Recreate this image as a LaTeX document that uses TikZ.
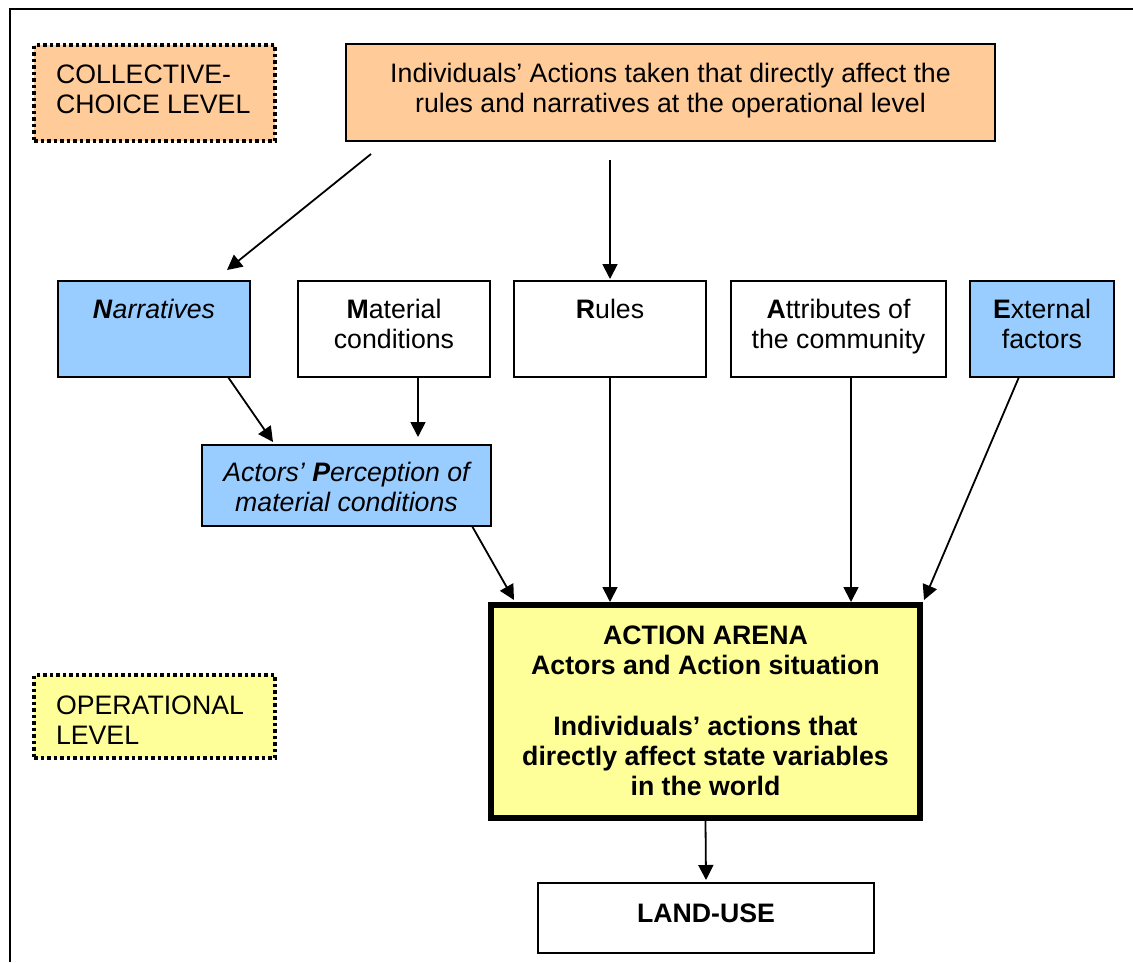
\documentclass[tikz,border=0pt]{standalone}
\usepackage{fontspec}
\setmainfont{Liberation Sans}
\usetikzlibrary{arrows.meta}
\definecolor{peach}{HTML}{FFCC99}
\definecolor{lblue}{HTML}{99CCFF}
\definecolor{lyellow}{HTML}{FFFF99}
\newcommand{\tbx}[4]{\parbox[c][#2][t]{#1}{\vspace*{#3}\centering\strut#4\strut}}
\newcommand{\lbx}[4]{\parbox[c][#2][t]{#1}{\vspace*{#3}\raggedright\strut#4\strut}}
\begin{document}
\begin{tikzpicture}[x=1pt,y=-1pt,
  box/.style={draw=black, line width=1.5pt, inner sep=0pt, outer sep=0pt, anchor=north west, font=\fontsize{26.7}{30}\selectfont},
  lvl/.style={box, line width=3.5pt, dash pattern=on 3.5pt off 3pt, inner xsep=22pt},
  arenabox/.style={box, line width=5.5pt, fill=lyellow},
  arr/.style={line width=1.8pt, -{Triangle[length=15pt,width=15pt]}}]
\useasboundingbox (0,0) rectangle (1133,962);
\fill[white] (0,0) rectangle (1133,962);
\draw[line width=2pt] (10,962) -- (10,9) -- (1133,9);

\node[lvl, fill=peach] (coll) at (34,45) {\lbx{197pt}{96pt}{17pt}{COLLECTIVE-\\CHOICE LEVEL}};
\node[box, fill=peach] (top) at (346,44) {\tbx{649pt}{97pt}{17pt}{Individuals’ Actions taken that directly affect the\\rules and narratives at the operational level}};

\node[box, fill=lblue] (nar) at (58,281) {\tbx{192pt}{96pt}{16pt}{\textbf{\textit{N}}\textit{arratives}}};
\node[box, fill=white] (mat) at (298,281) {\tbx{192pt}{96pt}{16pt}{\textbf{M}aterial\\conditions}};
\node[box, fill=white] (rul) at (514,281) {\tbx{192pt}{96pt}{16pt}{\textbf{R}ules}};
\node[box, fill=white] (att) at (731,281) {\tbx{215pt}{96pt}{16pt}{\textbf{A}ttributes of\\the community}};
\node[box, fill=lblue] (ext) at (970,281) {\tbx{144pt}{96pt}{16pt}{\textbf{E}xternal\\factors}};

\node[box, fill=lblue] (per) at (202,445) {\tbx{289pt}{81pt}{15pt}{\textit{Actors’ \textbf{P}erception of\\material conditions}}};

\node[arenabox] (arena) at (491,605) {\tbx{429pt}{213pt}{18pt}{\textbf{ACTION ARENA\\Actors and Action situation\\[31pt]Individuals’ actions that\\directly affect state variables\\in the world}}};

\node[lvl, fill=lyellow] (op) at (34,675) {\lbx{197pt}{83pt}{18pt}{OPERATIONAL\\LEVEL}};

\node[box, fill=white] (land) at (538,883) {\tbx{336pt}{70pt}{18pt}{\textbf{LAND-USE}}};

\draw[arr] ([xshift=-299.5pt,yshift=-13pt]top.south) -- ([xshift=73pt,yshift=11pt]nar.north);
\draw[arr] ([xshift=-60.5pt,yshift=-19pt]top.south) -- ([yshift=2pt]rul.north);
\draw[arr] ([xshift=74pt]nar.south) -- ([xshift=-73.5pt,yshift=3pt]per.north);
\draw[arr] ([xshift=24pt]mat.south) -- ([xshift=71.5pt,yshift=8pt]per.north);
\draw[arr] ([xshift=125.5pt]per.south) -- ([xshift=-191.5pt,yshift=5pt]arena.north);
\draw[arr] (rul.south) -- ([xshift=-95.5pt,yshift=3pt]arena.north);
\draw[arr] ([xshift=12.5pt]att.south) -- ([xshift=145.5pt,yshift=3pt]arena.north);
\draw[arr] ([xshift=-23pt]ext.south) -- ([xshift=218.5pt,yshift=5pt]arena.north);
\draw[arr] ([yshift=-3pt]arena.south) -- ([yshift=3pt]land.north);
\end{tikzpicture}
\end{document}
